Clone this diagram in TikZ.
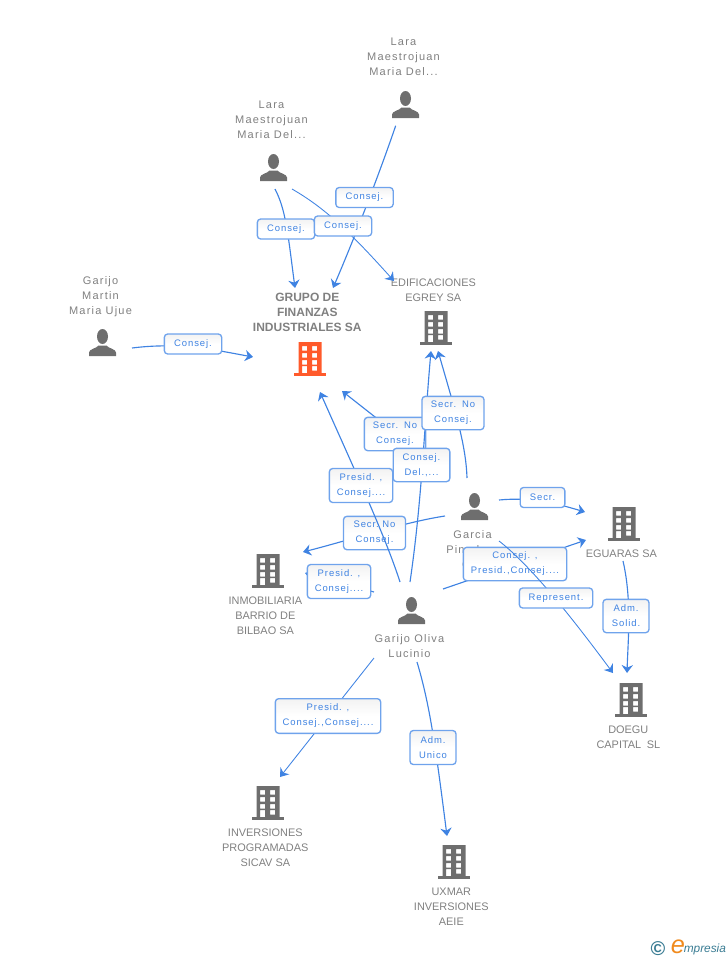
\documentclass[tikz,border=0pt]{standalone}
\usepackage{fontspec}
\setmainfont{Liberation Sans}
\newfontfamily\spacedfont[LetterSpace=11]{Liberation Sans}
\newfontfamily\tagfont[LetterSpace=10]{Liberation Sans}
\usetikzlibrary{arrows.meta, positioning}
\definecolor{linkblue}{HTML}{3F83E2}
\definecolor{tagborder}{HTML}{6FA3EC}
\definecolor{icongrey}{HTML}{6E6E6E}
\definecolor{textgrey}{HTML}{808080}
\definecolor{mainorange}{HTML}{FF5A2B}
\definecolor{logoteal}{HTML}{3A7C93}
\definecolor{logoorange}{HTML}{F08A1D}
\tikzstyle{line} = [draw=linkblue, line width=0.85pt, -{Stealth[length=6pt,width=8.5pt]}]
\tikzstyle{linktag} = [rectangle, rounded corners=2.5pt, draw=tagborder, line width=1pt, top color=black!5, bottom color=white, middle color=white, text=linkblue, align=center, inner sep=0pt, font=\tagfont\fontsize{7.1pt}{11.25pt}\selectfont]
\tikzstyle{iconbox} = [rectangle, inner sep=0pt, minimum width=20.25pt, minimum height=20.25pt]
\tikzstyle{personlabel} = [inner sep=0pt, align=center, text=textgrey, font=\spacedfont\fontsize{8.25pt}{11.25pt}\selectfont]
\tikzstyle{firmlabel} = [inner sep=0pt, align=center, text=textgrey, font=\fontsize{8.2pt}{11.25pt}\selectfont]
\tikzset{
  pics/personpic/.style={code={
    \fill[icongrey] (0,-6) ellipse [x radius=5.5, y radius=7.5];
    \fill[icongrey] (-13.5,13.5) -- (-13.5,10) .. controls (-13.5,6.5) and (-6,6) .. (-4,3) -- (4,3) .. controls (6,6) and (13.5,6.5) .. (13.5,10) -- (13.5,13.5) -- cycle;
  }},
  pics/firmpic/.style={code={
    \fill[#1, even odd rule] (-11.5,-17) rectangle (11.5,14)
      (-8,-13) rectangle (-3,-8.5) (2,-13) rectangle (7,-8.5)
      (-8,-6) rectangle (-3,-1.5) (2,-6) rectangle (7,-1.5)
      (-8,1) rectangle (-3,5.5) (2,1) rectangle (7,5.5)
      (-8,7) rectangle (-3,14) (2,7) rectangle (7,11.5);
    \fill[#1] (-16,14) rectangle (16,17);
  }}
}
\begin{document}
\begin{tikzpicture}[x=0.75pt, y=-0.75pt]
  \useasboundingbox (0,0) rectangle (728,960);

  % Place icons
  \node [iconbox] (laratop) at (405.5,104.5) {};
  \node [iconbox] (laraleft) at (273.5,167.5) {};
  \node [iconbox] (martin) at (102.5,342.5) {};
  \node [iconbox] (garcia) at (474.5,506.5) {};
  \node [iconbox] (oliva) at (411.5,610.5) {};
  \node [iconbox] (grupo) at (310,359) {};
  \node [iconbox] (edificaciones) at (436,328) {};
  \node [iconbox] (eguaras) at (624,524) {};
  \node [iconbox] (inmobiliaria) at (268,571) {};
  \node [iconbox] (doegu) at (631,700) {};
  \node [iconbox] (inversiones) at (268,803) {};
  \node [iconbox] (uxmar) at (454,862) {};
  \pic at (laratop) {personpic};
  \pic at (laraleft) {personpic};
  \pic at (martin) {personpic};
  \pic at (garcia) {personpic};
  \pic at (oliva) {personpic};
  \pic at (grupo) {firmpic=mainorange};
  \pic at (edificaciones) {firmpic=icongrey};
  \pic at (eguaras) {firmpic=icongrey};
  \pic at (inmobiliaria) {firmpic=icongrey};
  \pic at (doegu) {firmpic=icongrey};
  \pic at (inversiones) {firmpic=icongrey};
  \pic at (uxmar) {firmpic=icongrey};

  % Place labels
  \node [personlabel, above=11pt of laratop, xshift=-1.5pt] (laratoptext) {Lara\\Maestrojuan\\Maria Del...};
  \node [personlabel, above=11pt of laraleft, xshift=-1.5pt] (laralefttext) {Lara\\Maestrojuan\\Maria Del...};
  \node [personlabel, above=9pt of martin, xshift=-1.5pt] (martintext) {Garijo\\Martin\\Maria Ujue};
  \node [personlabel, below=7.5pt of garcia, xshift=-1.5pt] (garciatext) {Garcia\\Pinedero\\C...};
  \node [personlabel, below=7.5pt of oliva, xshift=-1.5pt] (olivatext) {Garijo Oliva\\Lucinio};
  \node [firmlabel, above=10.25pt of grupo, xshift=-2pt, font=\bfseries\fontsize{9pt}{11.25pt}\selectfont] (grupotext) {GRUPO DE\\FINANZAS\\INDUSTRIALES SA};
  \node [firmlabel, above=9.4pt of edificaciones, xshift=-2pt] (edificacionestext) {EDIFICACIONES\\EGREY SA};
  \node [firmlabel, below=8.75pt of eguaras, xshift=-2pt] (eguarastext) {EGUARAS SA};
  \node [firmlabel, below=8.75pt of inmobiliaria, xshift=-2pt] (inmobiliariatext) {INMOBILIARIA\\BARRIO DE\\BILBAO SA};
  \node [firmlabel, below=8.75pt of doegu, xshift=-2pt] (doegutext) {DOEGU\\CAPITAL\enspace SL};
  \node [firmlabel, below=8.75pt of inversiones, xshift=-2pt] (inversionestext) {INVERSIONES\\PROGRAMADAS\\SICAV SA};
  \node [firmlabel, below=8.75pt of uxmar, xshift=-2pt] (uxmartext) {UXMAR\\INVERSIONES\\AEIE};

  % Free ends of the connectors
  \coordinate (laratopout) at (395.7,125.7);
  \coordinate (laraleftoutA) at (275,189);
  \coordinate (laraleftoutB) at (292,189);
  \coordinate (martinout) at (132,348);
  \coordinate (garciaoutA) at (467,478);
  \coordinate (garciaoutB) at (445,472);
  \coordinate (garciaoutC) at (445,516);
  \coordinate (garciaoutD) at (499,500);
  \coordinate (garciaoutE) at (499,541);
  \coordinate (olivaoutA) at (410,582);
  \coordinate (olivaoutB) at (400,582);
  \coordinate (olivaoutC) at (374,592);
  \coordinate (olivaoutD) at (443,589);
  \coordinate (olivaoutE) at (374,658);
  \coordinate (olivaoutF) at (417,662);
  \coordinate (grupoinA) at (295,288);
  \coordinate (grupoinB) at (333,288);
  \coordinate (grupoinC) at (253,357);
  \coordinate (grupoinD) at (342,391);
  \coordinate (grupoinE) at (320,392);
  \coordinate (edifinA) at (394,281);
  \coordinate (edifinB) at (431,351);
  \coordinate (edifinC) at (438,351);
  \coordinate (inmoinA) at (303,552);
  \coordinate (inmoinB) at (305,573);
  \coordinate (eguarasinA) at (585,512);
  \coordinate (eguarasinB) at (586,540);
  \coordinate (eguarasout) at (623,561);
  \coordinate (doeguinA) at (613,673);
  \coordinate (doeguinB) at (627,673);
  \coordinate (inversionesin) at (280,777);
  \coordinate (uxmarin) at (447,836);

  % Draw edges and their tags
  \path [line] (laratopout) .. controls (384,160) and (360,225) .. (grupoinB);
  \node [linktag, minimum width=43pt, minimum height=15pt] (tagA) at (364.5,197.5) {Consej.};
  \path [line] (laraleftoutA) .. controls (286,210) and (288,235) .. (grupoinA);
  \node [linktag, minimum width=43pt, minimum height=15pt] (tagB) at (286,229) {Consej.};
  \path [line, line width=0.65pt] (laraleftoutB) .. controls (325,208) and (350,232) .. (edifinA);
  \node [linktag, minimum width=43pt, minimum height=15pt] (tagC) at (343,226) {Consej.};
  \path [line] (martinout) .. controls (180,342) and (215,350) .. (grupoinC);
  \node [linktag, minimum width=43pt, minimum height=15pt] (tagD) at (193,344) {Consej.};

  \path [line] (garciaoutB) -- (grupoinD);
  \node [linktag, minimum width=46pt, minimum height=25pt] (tagE) at (395,434) {Secr.\hspace{4.5pt}No\\Consej.};
  \path [line] (olivaoutA) .. controls (422,500) and (424,430) .. (edifinB);
  \node [linktag, minimum width=42.5pt, minimum height=25pt] (tagF) at (421.5,465) {Consej.\\Del.,...};
  \path [line] (garciaoutA) .. controls (466,445) and (455,410) .. (edifinC);
  \node [linktag, minimum width=46.5pt, minimum height=25pt] (tagG) at (453,413) {Secr.\hspace{4.5pt}No\\Consej.};
  \path [line] (garciaoutC) .. controls (405,522) and (350,540) .. (inmoinA);
  \node [linktag, minimum width=46.5pt, minimum height=25pt] (tagH) at (374.5,533) {Secr.\ No\\Consej.};
  \path [line] (olivaoutB) .. controls (385,535) and (350,460) .. (grupoinE);
  \node [linktag, minimum width=47.5pt, minimum height=25.5pt] (tagI) at (361,485.5) {Presid. ,\\Consej....};
  \path [line] (olivaoutC) -- (inmoinB);
  \node [linktag, minimum width=47.5pt, minimum height=25.5pt] (tagJ) at (339,581.5) {Presid. ,\\Consej....};
  \path [line] (olivaoutD) -- (eguarasinB);
  \node [linktag, minimum width=77.5pt, minimum height=25pt] (tagK) at (515,564) {Consej. ,\\Presid.,Consej....};
  \path [line, line width=0.65pt] (garciaoutE) .. controls (530,565) and (570,615) .. (doeguinA);
  \node [linktag, minimum width=55pt, minimum height=15pt] (tagL) at (556,598) {Represent.};
  \path [line] (garciaoutD) .. controls (530,497) and (555,503) .. (eguarasinA);
  \node [linktag, minimum width=33.5pt, minimum height=15pt] (tagM) at (542.5,497.5) {Secr.};
  \path [line] (eguarasout) .. controls (632,600) and (628,640) .. (doeguinB);
  \node [linktag, minimum width=34.5pt, minimum height=25pt] (tagN) at (626,616) {Adm.\\Solid.};
  \path [line, line width=0.65pt] (olivaoutE) -- (inversionesin);
  \node [linktag, minimum width=79pt, minimum height=26pt] (tagO) at (328,716) {Presid. ,\\Consej.,Consej....};
  \path [line] (olivaoutF) .. controls (430,705) and (436,750) .. (uxmarin);
  \node [linktag, minimum width=34.5pt, minimum height=25.5pt] (tagP) at (433,747.5) {Adm.\\Unico};

  % Logo
  \node [inner sep=0pt, text=logoteal, font=\bfseries\fontsize{15pt}{15pt}\selectfont] (logomark) at (658,949) {©};
  \node [inner sep=0pt, text=logoorange, font=\itshape\fontsize{19pt}{19pt}\selectfont] (logoe) at (678,947) {e};
  \node [inner sep=0pt, text=logoteal, anchor=base west, font=\itshape\fontsize{8.9pt}{8.9pt}\selectfont] (logoname) at (683.5,952) {mpresia};
\end{tikzpicture}
\end{document}
